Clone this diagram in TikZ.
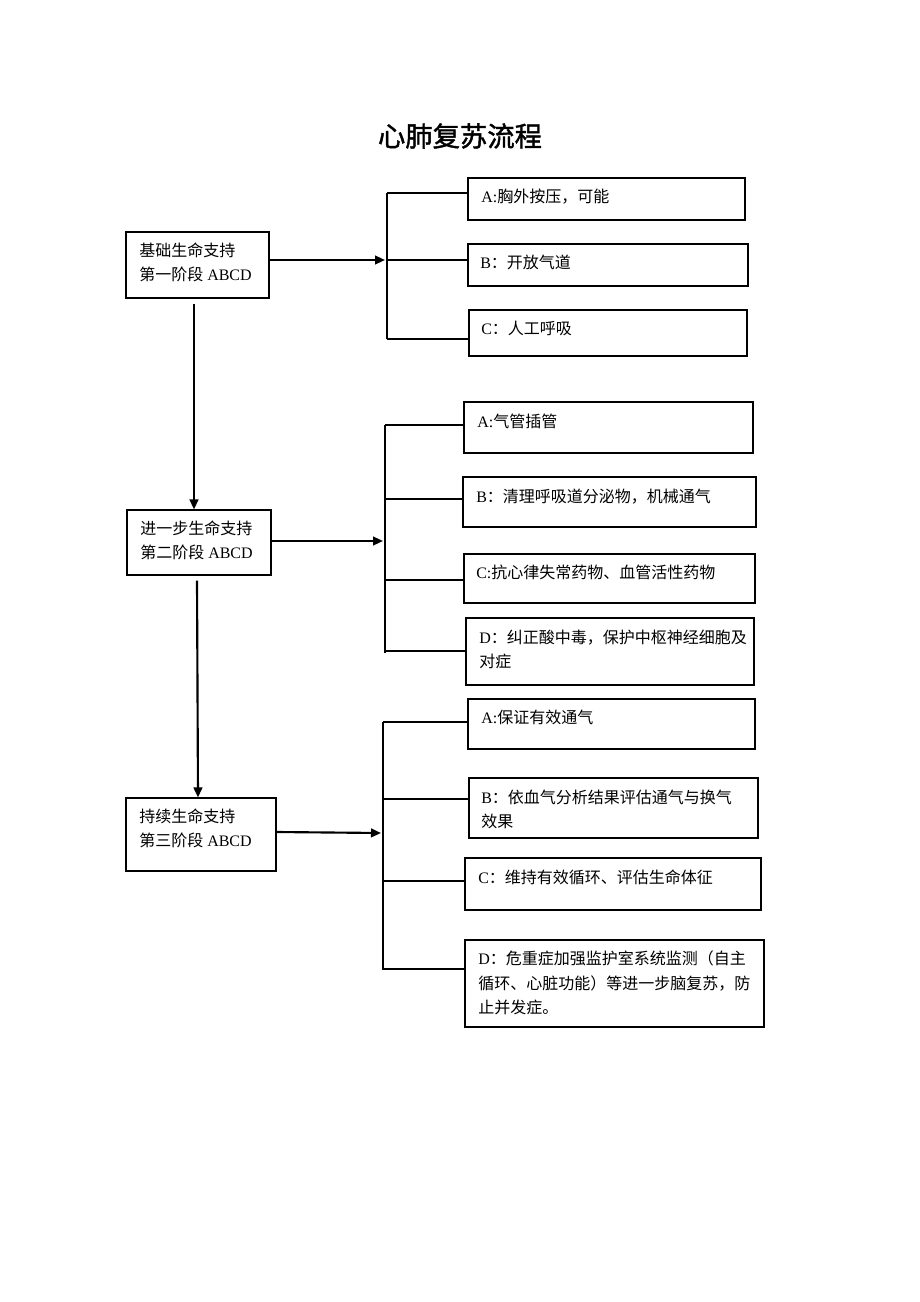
\documentclass[tikz,border=0pt]{standalone}
\usepackage{fontspec}
\setmainfont{Liberation Serif}
\newfontfamily\cjk{Noto Sans CJK SC}
\newfontfamily\cjktitle[FakeBold=1.5]{Noto Sans CJK SC}
\newcommand\zh[1]{{\cjk #1}}
\usetikzlibrary{arrows.meta,fit,calc}
\begin{document}
\begin{tikzpicture}[x=0.75pt,y=-0.75pt,
  box/.style={draw, line width=0.8pt, inner sep=0pt, rectangle},
  txt/.style={anchor=north west, inner sep=0pt, align=left, font=\fontsize{12}{18.4}\selectfont},
  conn/.style={line width=1.6pt},
  arr/.style={conn, -{Triangle[length=7.5pt,width=6.5pt]}}]
\useasboundingbox[fill=white] (0,0) rectangle (920,1302);

% title
\node[inner sep=0pt, font=\fontsize{20.5}{24}\selectfont\cjktitle] (title) at (460,136) {心肺复苏流程};

% left boxes
\node[box, fit={(126,232) (269,298)}] (l1) {};
\node[box, fit={(127,510) (271,575)}] (l2) {};
\node[box, fit={(126,798) (276,871)}] (l3) {};
\node[txt] (l1t) at (139,242.5) {\zh{基础生命支持}\\\zh{第一阶段} ABCD};
\node[txt] (l2t) at (140,520.5) {\zh{进一步生命支持}\\\zh{第二阶段} ABCD};
\node[txt] (l3t) at (139,808.5) {\zh{持续生命支持}\\\zh{第三阶段} ABCD};

% group 1 boxes
\node[box, fit={(468,178) (745,220)}] (a1) {};
\node[box, fit={(468,244) (748,286)}] (b1) {};
\node[box, fit={(469,310) (747,356)}] (c1) {};
\node[txt] (a1t) at (481,188.5) {A:\zh{胸外按压，可能}};
\node[txt] (b1t) at (480,254.5) {B\zh{：开放气道}};
\node[txt] (c1t) at (481,320.5) {C\zh{：人工呼吸}};

% group 2 boxes
\node[box, fit={(464,402) (753,453)}] (a2) {};
\node[box, fit={(463,477) (756,527)}] (b2) {};
\node[box, fit={(464,554) (755,603)}] (c2) {};
\node[box, fit={(466,618) (754,685)}] (d2) {};
\node[txt] (a2t) at (477,413.5) {A:\zh{气管插管}};
\node[txt] (b2t) at (476,488.5) {B\zh{：清理呼吸道分泌物，机械通气}};
\node[txt] (c2t) at (476,564.5) {C:\zh{抗心律失常药物、血管活性药物}};
\node[txt] (d2t) at (479,629.5) {D\zh{：纠正酸中毒，保护中枢神经细胞及}\\\zh{对症}};

% group 3 boxes
\node[box, fit={(468,699) (755,749)}] (a3) {};
\node[box, fit={(469,778) (758,838)}] (b3) {};
\node[box, fit={(465,858) (761,910)}] (c3) {};
\node[box, fit={(465,940) (764,1027)}] (d3) {};
\node[txt] (a3t) at (481,709.5) {A:\zh{保证有效通气}};
\node[txt] (b3t) at (481,789.5) {B\zh{：依血气分析结果评估通气与换气}\\\zh{效果}};
\node[txt] (c3t) at (478,869.5) {C\zh{：维持有效循环、评估生命体征}};
\node[txt] (d3t) at (478,950.5) {D\zh{：危重症加强监护室系统监测（自主}\\\zh{循环、心脏功能）等进一步脑复苏，防}\\\zh{止并发症。}};

% bracket coordinates
\coordinate (k1top) at (387,193);
\coordinate (k1mid) at (387,260);
\coordinate (k1bot) at (387,339);
\coordinate (k2a) at (385,425);
\coordinate (k2b) at (385,499);
\coordinate (k2c) at (385,580);
\coordinate (k2d) at (385,651);
\coordinate (k2bot) at (385,653);
\coordinate (k2in) at (383,541);
\coordinate (k3a) at (383,722);
\coordinate (k3b) at (383,799);
\coordinate (k3c) at (383,881);
\coordinate (k3d) at (383,969);
\coordinate (k3bot) at (383,970);
\coordinate (k3in) at (381,833);

% vertical arrows
\draw[arr] ([shift={(-3.5,5)}]l1.south) -- ([xshift=-3.5*0.75pt]l1.south |- l2.north);
\draw[arr] ([shift={(-2,5)}]l2.south) -- ([xshift=-1*0.75pt]l2.south |- l3.north);

% horizontal arrows
\draw[arr] (l1.east |- k1mid) -- ([xshift=-2*0.75pt]k1mid);
\draw[arr] (l2.east |- k2in) -- (k2in);
\draw[arr] ([yshift=1*0.75pt]l3.east |- k3in) -- (k3in);

% bracket 1
\draw[conn] (k1top) -- (k1bot);
\draw[conn] (k1top) -- (k1top -| a1.west);
\draw[conn] (k1mid) -- (k1mid -| b1.west);
\draw[conn] (k1bot) -- (k1bot -| c1.west);

% bracket 2
\draw[conn] (k2a) -- (k2bot);
\draw[conn] (k2a) -- (k2a -| a2.west);
\draw[conn] (k2b) -- (k2b -| b2.west);
\draw[conn] (k2c) -- (k2c -| c2.west);
\draw[conn] (k2d) -- (k2d -| d2.west);

% bracket 3
\draw[conn] (k3a) -- (k3bot);
\draw[conn] (k3a) -- (k3a -| a3.west);
\draw[conn] (k3b) -- (k3b -| b3.west);
\draw[conn] (k3c) -- (k3c -| c3.west);
\draw[conn] (k3d) -- (k3d -| d3.west);
\end{tikzpicture}
\end{document}
